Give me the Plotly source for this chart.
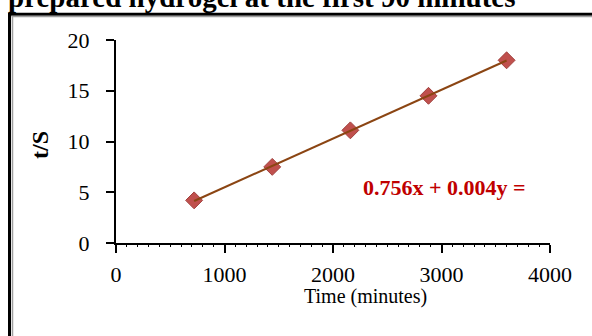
import numpy as np
import plotly.graph_objects as go

# Data
time_min = [720, 1440, 2160, 2880, 3600]
t_over_s = [4.2, 7.5, 11.1, 14.5, 18.0]
x_ticks = [0, 1000, 2000, 3000, 4000]
y_ticks = [0, 5, 10, 15, 20]
equation_text = "0.756x + 0.004y ="
title_text = "prepared hydrogel at the first 90 minutes"

# Plot area in pixels
L, R, T, B = 116, 550, 40, 243
W, H = 592, 336
PW, PH = R - L, B - T

def X(px):
    return (px - L) / PW

def Y(py):
    return (B - py) / PH

# trendline from a least-squares fit of the data
k, c = np.polyfit(time_min, t_over_s, 1)
fit_x = [time_min[0], time_min[-1]]
fit_y = [k * v + c for v in fit_x]

FONT = "Liberation Serif"

fig = go.Figure()
fig.add_trace(go.Scatter(
    x=time_min, y=t_over_s, mode="markers",
    marker=dict(symbol="diamond", size=13, color="#C0504D",
                line=dict(color="#A0403D", width=1)),
    showlegend=False, cliponaxis=False))
fig.add_trace(go.Scatter(
    x=fit_x, y=fit_y, mode="lines",
    line=dict(color="#8B4513", width=2),
    showlegend=False, cliponaxis=False))

fig.update_layout(
    width=W, height=H,
    margin=dict(l=L, r=W - R, t=T, b=H - B, pad=0),
    paper_bgcolor="white", plot_bgcolor="white",
    font=dict(family=FONT, color="black"),
    showlegend=False,
)
fig.update_xaxes(
    range=[0, 4000], tickvals=x_ticks, ticktext=[str(v) for v in x_ticks],
    showgrid=False, zeroline=False, showline=True, linecolor="black", linewidth=2,
    ticks="outside", ticklen=8, tickwidth=2, tickcolor="black",
    tickfont=dict(family=FONT, size=22, color="black"), ticklabelstandoff=3,
    minor=dict(ticks="outside", ticklen=2, tickwidth=1, dtick=100, tickcolor="black"),
)
fig.update_yaxes(
    range=[0, 20], tickvals=y_ticks, ticktext=[str(v) for v in y_ticks],
    showgrid=False, zeroline=False, showline=True, linecolor="black", linewidth=2,
    ticks="outside", ticklen=8, tickwidth=2, tickcolor="black",
    tickfont=dict(family=FONT, size=22, color="black"), ticklabelstandoff=12,
)

annotations = [
    dict(text=title_text, xref="paper", yref="paper", x=X(6), y=Y(15),
         xanchor="left", yanchor="bottom", showarrow=False,
         font=dict(family=FONT, size=29, color="black", weight="bold")),
    dict(text="Time (minutes)", xref="paper", yref="paper", x=X(365), y=Y(296),
         xanchor="center", yanchor="middle", showarrow=False,
         font=dict(family=FONT, size=20, color="black")),
    dict(text="t/S", xref="paper", yref="paper", x=X(40), y=Y(145),
         xanchor="center", yanchor="middle", showarrow=False, textangle=-90,
         font=dict(family=FONT, size=24, color="black", weight="bold")),
    dict(text=equation_text, xref="paper", yref="paper", x=X(444), y=Y(187),
         xanchor="center", yanchor="middle", showarrow=False,
         font=dict(family=FONT, size=22, color="#C00000", weight="bold")),
]
fig.update_layout(annotations=annotations)

shapes = [
    dict(type="line", xref="paper", yref="paper", x0=X(9.5), x1=X(9.5), y0=Y(13), y1=Y(340),
         line=dict(color="black", width=3)),
    dict(type="line", xref="paper", yref="paper", x0=X(8), x1=X(600), y0=Y(14.2), y1=Y(14.2),
         line=dict(color="black", width=3)),
    dict(type="line", xref="paper", yref="paper", x0=X(12.5), x1=X(12.5), y0=Y(16), y1=Y(340),
         line=dict(color="#A0A0A0", width=1.5)),
    dict(type="line", xref="paper", yref="paper", x0=X(11.5), x1=X(600), y0=Y(16.5), y1=Y(16.5),
         line=dict(color="#A0A0A0", width=1.5)),
]
fig.update_layout(shapes=shapes)

fig.write_html("out.html")
